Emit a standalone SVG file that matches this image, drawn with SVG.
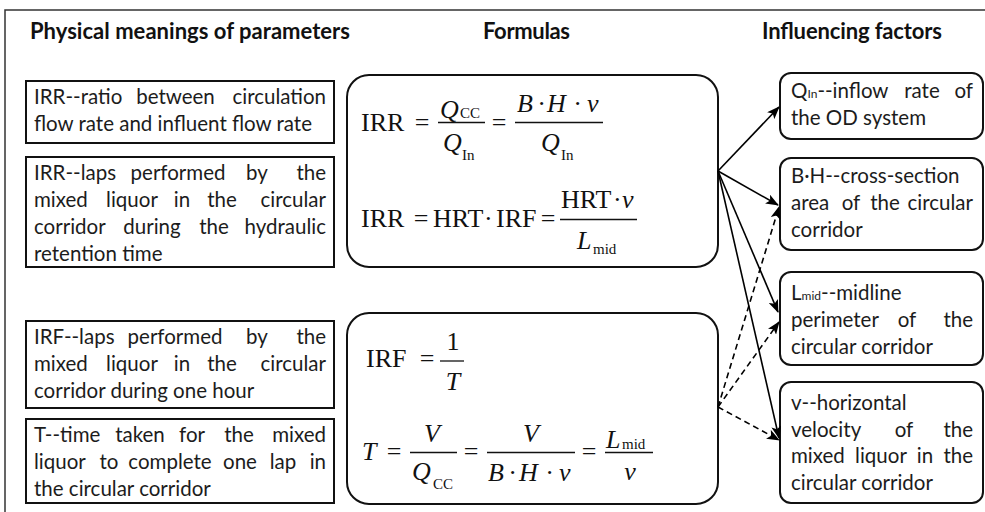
<svg xmlns="http://www.w3.org/2000/svg" width="985" height="512" viewBox="0 0 985 512">
<defs>
<marker id="ah" markerWidth="13" markerHeight="10" refX="12" refY="5" orient="auto" markerUnits="userSpaceOnUse">
<path d="M0,0 L13,5 L0,10 L3,5 Z" fill="#000"/>
</marker>
<style>
.frame{fill:none;stroke:#333;stroke-width:1.5}
.hd{font-family:Lato,"Liberation Sans",sans-serif;font-weight:bold;font-size:22px;fill:#111}
.box{fill:#fff;stroke:#111;stroke-width:2}
.rbox{fill:#fff;stroke:#111;stroke-width:2}
.t{font-family:Lato,"Liberation Sans",sans-serif;font-size:20.5px;fill:#1c1c1c}
.sm{font-size:12px}
.m{text-anchor:middle}
.e{text-anchor:end}
.f{font-family:"Liberation Serif","Times New Roman",serif;font-size:26px;fill:#111}
.fs{font-size:15px;font-style:normal}
.i{font-style:italic}
.bar{stroke:#111;stroke-width:1.3}
.c{fill:none;stroke:#000;stroke-width:1.6}
.d{stroke-dasharray:6,4}
</style>
</defs>

<path class="frame" d="M985,10 H5 V512"/>

<g id="headers">
<text class="hd" x="30" y="39" textLength="320">Physical meanings of parameters</text>
<text class="hd" x="483" y="39" textLength="87">Formulas</text>
<text class="hd" x="762" y="39" textLength="180">Influencing factors</text>
</g>

<g id="meaning1">
<rect class="box" x="26" y="81" width="308" height="62"/>
<text class="t" y="104"><tspan x="34">IRR--ratio</tspan><tspan class="m" x="175.5">between</tspan><tspan class="e" x="326">circulation</tspan></text>
<text class="t" x="34" y="131">flow rate and influent flow rate</text>
</g>

<g id="meaning2">
<rect class="box" x="26" y="157" width="308" height="110"/>
<text class="t" y="180"><tspan x="34">IRR--laps</tspan><tspan class="m" x="178">performed</tspan><tspan class="m" x="257">by</tspan><tspan class="e" x="326">the</tspan></text>
<text class="t" y="207"><tspan x="34">mixed</tspan><tspan class="m" x="132">liquor</tspan><tspan class="m" x="182">in</tspan><tspan class="m" x="222">the</tspan><tspan class="e" x="326">circular</tspan></text>
<text class="t" y="234"><tspan x="34">corridor</tspan><tspan class="m" x="152">during</tspan><tspan class="m" x="214">the</tspan><tspan class="e" x="326">hydraulic</tspan></text>
<text class="t" x="34" y="261">retention time</text>
</g>

<g id="meaning3">
<rect class="box" x="26" y="321" width="308" height="87"/>
<text class="t" y="344"><tspan x="34">IRF--laps</tspan><tspan class="m" x="175">performed</tspan><tspan class="m" x="257">by</tspan><tspan class="e" x="326">the</tspan></text>
<text class="t" y="371"><tspan x="34">mixed</tspan><tspan class="m" x="132">liquor</tspan><tspan class="m" x="182">in</tspan><tspan class="m" x="222">the</tspan><tspan class="e" x="326">circular</tspan></text>
<text class="t" x="34" y="398">corridor during one hour</text>
</g>

<g id="meaning4">
<rect class="box" x="26" y="419" width="308" height="84"/>
<text class="t" y="442"><tspan x="34">T--time</tspan><tspan class="m" x="140">taken</tspan><tspan class="m" x="192">for</tspan><tspan class="m" x="239">the</tspan><tspan class="e" x="326">mixed</tspan></text>
<text class="t" y="469"><tspan x="34">liquor</tspan><tspan class="m" x="109">to</tspan><tspan class="m" x="170">complete</tspan><tspan class="m" x="240">one</tspan><tspan class="m" x="283">lap</tspan><tspan class="e" x="326">in</tspan></text>
<text class="t" x="34" y="496">the circular corridor</text>
</g>

<g id="formula1">
<rect class="rbox" x="347" y="75" width="371" height="192" rx="22"/>
<text class="f" x="361" y="131">IRR</text>
<text class="f m" x="422" y="131">=</text>
<line class="bar" x1="438" y1="122.5" x2="485" y2="122.5"/>
<text class="f" y="118"><tspan class="i" x="440">Q</tspan><tspan class="fs" x="460">CC</tspan></text>
<text class="f" y="151"><tspan class="i" x="443">Q</tspan><tspan class="fs" x="462" y="160">In</tspan></text>
<text class="f m" x="499" y="131">=</text>
<line class="bar" x1="515" y1="122.5" x2="603" y2="122.5"/>
<text class="f i" y="112"><tspan x="517">B</tspan><tspan x="538">·</tspan><tspan x="547">H</tspan><tspan x="574">·</tspan><tspan x="587">v</tspan></text>
<text class="f" y="151"><tspan class="i" x="541">Q</tspan><tspan class="fs" x="561" y="160">In</tspan></text>

<text class="f" x="361" y="227">IRR</text>
<text class="f m" x="421" y="227">=</text>
<text class="f" x="433" y="227">HRT</text>
<text class="f" x="484" y="227">·</text>
<text class="f" x="496" y="227">IRF</text>
<text class="f m" x="548" y="227">=</text>
<line class="bar" x1="560" y1="219.5" x2="637" y2="219.5"/>
<text class="f" y="208"><tspan x="561">HRT</tspan><tspan x="613">·</tspan><tspan class="i" x="622">v</tspan></text>
<text class="f" y="249"><tspan class="i" x="577">L</tspan><tspan class="fs" x="593" y="254">mid</tspan></text>
</g>

<g id="formula2">
<rect class="rbox" x="347" y="313" width="371" height="191" rx="22"/>
<text class="f" x="366" y="367">IRF</text>
<text class="f m" x="427" y="367">=</text>
<line class="bar" x1="440" y1="361" x2="464" y2="361"/>
<text class="f m" x="453" y="350">1</text>
<text class="f i m" x="453" y="390">T</text>

<text class="f i" x="362" y="460">T</text>
<text class="f m" x="394" y="460">=</text>
<line class="bar" x1="410" y1="452.5" x2="457" y2="452.5"/>
<text class="f i m" x="432" y="442">V</text>
<text class="f" y="480"><tspan class="i" x="412">Q</tspan><tspan class="fs" x="433" y="489">CC</tspan></text>
<text class="f m" x="471" y="460">=</text>
<line class="bar" x1="487" y1="452.5" x2="575" y2="452.5"/>
<text class="f i m" x="531" y="442">V</text>
<text class="f i" y="481"><tspan x="488">B</tspan><tspan x="509">·</tspan><tspan x="519">H</tspan><tspan x="546">·</tspan><tspan x="559">v</tspan></text>
<text class="f m" x="589" y="460">=</text>
<line class="bar" x1="605" y1="452.5" x2="653" y2="452.5"/>
<text class="f" y="448"><tspan class="i" x="606">L</tspan><tspan class="fs" x="622" y="449">mid</tspan></text>
<text class="f i m" x="630" y="480">v</text>
</g>

<g id="factor1">
<rect class="rbox" x="780" y="73" width="203" height="66" rx="11"/>
<text class="t" y="98"><tspan x="791">Q</tspan><tspan class="sm">In</tspan><tspan>--inflow</tspan><tspan class="m" x="922">rate</tspan><tspan class="e" x="973">of</tspan></text>
<text class="t" x="791" y="125">the OD system</text>
</g>

<g id="factor2">
<rect class="rbox" x="780" y="158" width="203" height="92" rx="11"/>
<text class="t" x="791" y="183">B·H--cross-section</text>
<text class="t" y="210"><tspan x="791">area</tspan><tspan class="m" x="851">of</tspan><tspan class="m" x="885">the</tspan><tspan class="e" x="973">circular</tspan></text>
<text class="t" x="791" y="237">corridor</text>
</g>

<g id="factor3">
<rect class="rbox" x="780" y="272" width="203" height="93" rx="11"/>
<text class="t" y="300"><tspan x="791">L</tspan><tspan class="sm">mid</tspan><tspan>--midline</tspan></text>
<text class="t" y="327"><tspan x="791">perimeter</tspan><tspan class="m" x="907">of</tspan><tspan class="e" x="973">the</tspan></text>
<text class="t" x="791" y="354">circular corridor</text>
</g>

<g id="factor4">
<rect class="rbox" x="780" y="382" width="203" height="121" rx="11"/>
<text class="t" x="791" y="410">v--horizontal</text>
<text class="t" y="437"><tspan x="791">velocity</tspan><tspan class="m" x="904">of</tspan><tspan class="e" x="973">the</tspan></text>
<text class="t" y="463"><tspan x="791">mixed</tspan><tspan class="m" x="881">liquor</tspan><tspan class="m" x="925">in</tspan><tspan class="e" x="973">the</tspan></text>
<text class="t" x="791" y="490">circular corridor</text>
</g>

<g id="connectors">
<line class="c" x1="718" y1="171" x2="779" y2="107" marker-end="url(#ah)"/>
<line class="c" x1="718" y1="171" x2="778" y2="205" marker-end="url(#ah)"/>
<line class="c" x1="718" y1="171" x2="778" y2="312" marker-end="url(#ah)"/>
<line class="c" x1="718" y1="171" x2="779" y2="438" marker-end="url(#ah)"/>
<line class="c d" x1="718" y1="407" x2="779" y2="207" marker-end="url(#ah)"/>
<line class="c d" x1="718" y1="407" x2="779" y2="322" marker-end="url(#ah)"/>
<line class="c d" x1="718" y1="407" x2="779" y2="440" marker-end="url(#ah)"/>
</g>
</svg>
